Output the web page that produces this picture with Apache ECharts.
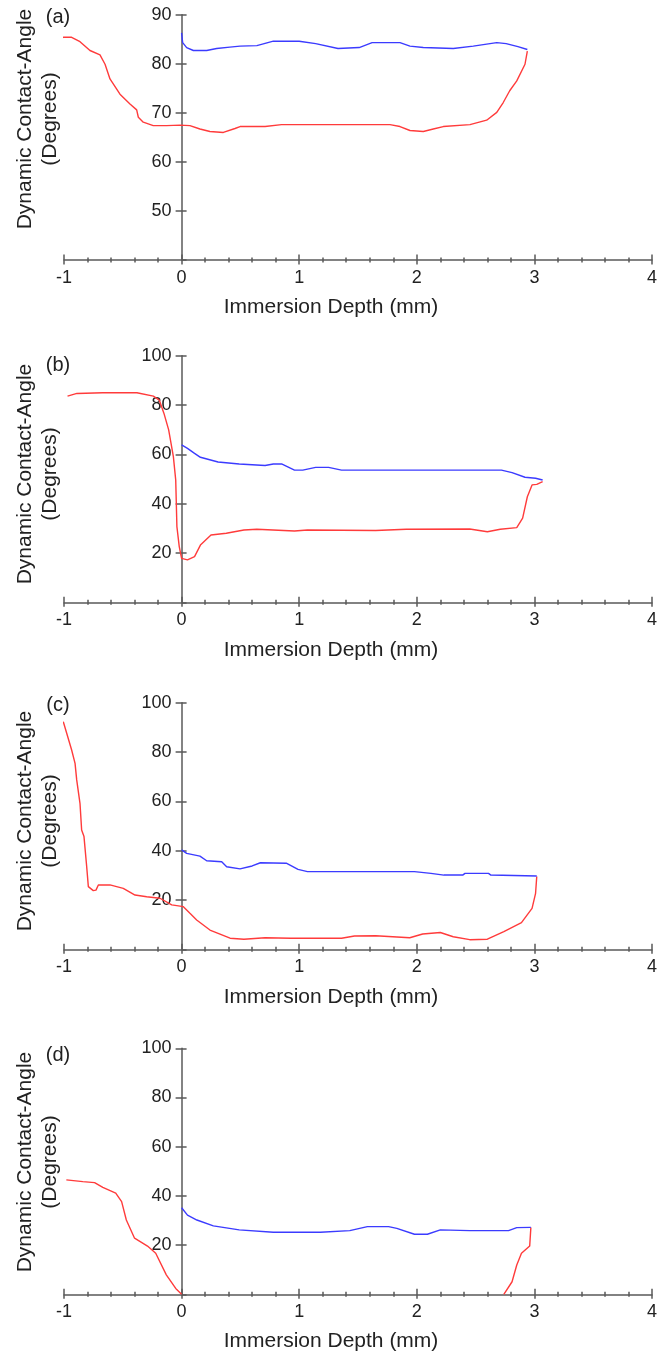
<!DOCTYPE html>
<html>
<head>
<meta charset="utf-8">
<script src="https://cdn.jsdelivr.net/npm/echarts@6/dist/echarts.min.js"></script>
<style>
  html, body { margin: 0; padding: 0; background: #fff; }
  #chart { width: 663px; height: 1352px; }
</style>
</head>
<body>
<div id="chart"></div>
<script>
// Dynamic contact angle vs immersion depth, four samples (a)-(d).
// Red: advancing (immersion) branch, blue: receding (withdrawal) branch.

const panelLabels = ['(a)', '(b)', '(c)', '(d)'];
const xTitle = 'Immersion Depth (mm)';
const yTitle = 'Dynamic Contact-Angle\n(Degrees)';

// (a)
const redA = [[-1.09,84.0],[-1.006,85.4],[-0.935,85.4],[-0.864,84.5],[-0.779,82.7],[-0.694,81.8],[-0.651,79.9],[-0.609,76.9],[-0.524,73.8],[-0.439,71.8],[-0.382,70.6],[-0.368,69.1],[-0.326,68.1],[-0.241,67.4],[-0.127,67.4],[-0.014,67.5],[0.071,67.4],[0.156,66.7],[0.241,66.2],[0.355,66.0],[0.454,66.8],[0.497,67.2],[0.71,67.2],[0.85,67.6],[1.6,67.6],[1.772,67.6],[1.857,67.2],[1.942,66.4],[2.055,66.2],[2.14,66.7],[2.225,67.2],[2.452,67.6],[2.594,68.5],[2.68,70.1],[2.735,72.1],[2.79,74.5],[2.85,76.5],[2.92,79.9],[2.94,82.6]];
const blueA = [[2.94,82.9],[2.86,83.5],[2.76,84.1],[2.68,84.3],[2.594,84.0],[2.48,83.6],[2.31,83.1],[2.055,83.3],[1.942,83.6],[1.857,84.3],[1.62,84.3],[1.51,83.3],[1.33,83.1],[1.14,84.1],[1.0,84.6],[0.78,84.6],[0.64,83.7],[0.497,83.6],[0.41,83.4],[0.298,83.1],[0.213,82.7],[0.1,82.7],[0.043,83.3],[0.009,84.3],[0.0,86.3]];

// (b)
const redB = [[-0.97,83.6],[-0.89,84.7],[-0.67,85.0],[-0.38,85.0],[-0.24,83.6],[-0.19,82.0],[-0.15,76.6],[-0.11,69.9],[-0.07,59.1],[-0.05,49.6],[-0.04,30.7],[-0.02,22.6],[0.0,17.8],[0.05,17.2],[0.11,18.5],[0.16,23.2],[0.25,27.3],[0.38,28.0],[0.53,29.3],[0.64,29.6],[0.96,28.9],[1.07,29.3],[1.65,29.1],[1.91,29.6],[2.45,29.7],[2.6,28.6],[2.71,29.6],[2.85,30.3],[2.9,34.1],[2.94,42.8],[2.98,47.6],[3.02,47.8],[3.07,48.9]];
const blueB = [[3.07,49.6],[3.01,50.3],[2.92,50.7],[2.81,52.6],[2.72,53.6],[1.36,53.6],[1.25,54.7],[1.14,54.7],[1.03,53.6],[0.96,53.6],[0.85,56.1],[0.78,56.1],[0.71,55.5],[0.49,56.1],[0.31,56.9],[0.16,58.8],[0.11,60.4],[0.05,62.4],[0.0,63.8]];

// (c)
const redC = [[-1.006,92.3],[-0.977,87.6],[-0.935,80.8],[-0.906,75.4],[-0.892,68.7],[-0.864,59.2],[-0.85,48.4],[-0.83,45.7],[-0.807,33.5],[-0.793,25.4],[-0.751,23.8],[-0.728,24.0],[-0.708,26.1],[-0.609,26.1],[-0.496,24.7],[-0.396,22.0],[-0.297,21.3],[-0.184,20.7],[-0.084,18.0],[0.015,17.3],[0.071,14.6],[0.128,11.9],[0.241,7.8],[0.412,4.5],[0.53,4.1],[0.71,4.7],[0.93,4.5],[1.36,4.5],[1.47,5.4],[1.65,5.5],[1.94,4.7],[2.05,6.2],[2.2,6.8],[2.31,5.1],[2.45,3.9],[2.6,4.1],[2.74,7.2],[2.89,10.8],[2.98,16.6],[3.01,22.7],[3.02,29.5]];
const blueC = [[3.02,29.7],[2.63,30.1],[2.61,30.8],[2.41,30.8],[2.39,30.1],[2.23,30.1],[2.12,30.8],[1.98,31.5],[1.07,31.5],[0.99,32.4],[0.89,34.9],[0.67,35.1],[0.6,33.8],[0.497,32.6],[0.383,33.5],[0.341,35.5],[0.213,35.9],[0.156,37.8],[0.043,38.9],[0.0,40.3]];

// (d)
const redDLeft = [[-0.98,46.5],[-0.84,45.8],[-0.74,45.4],[-0.67,43.5],[-0.56,41.1],[-0.51,37.7],[-0.47,30.2],[-0.4,22.8],[-0.29,19.6],[-0.22,16.7],[-0.13,7.9],[-0.05,2.4],[0,0]];
const redDRight = [[2.74,0],[2.81,5.1],[2.85,11.9],[2.89,16.7],[2.96,19.6],[2.97,27.2]];
const blueD = [[2.97,27.2],[2.85,27.1],[2.78,25.9],[2.45,25.9],[2.2,26.2],[2.09,24.4],[1.98,24.4],[1.83,26.8],[1.76,27.5],[1.58,27.5],[1.43,25.9],[1.18,25.2],[0.78,25.2],[0.49,26.2],[0.27,27.8],[0.13,30.2],[0.05,32.2],[0.0,35.2]];

const xMin = -1, xMax = 4, xStep = 1;
const yRanges = [[40, 90, 10], [0, 100, 20], [0, 100, 20], [0, 100, 20]];
const redSeries = [[redA], [redB], [redC], [redDLeft, redDRight]];
const blueSeries = [blueA, blueB, blueC, blueD];

// ---- layout ----
const FONT = '"Liberation Sans", Arial, Helvetica, sans-serif';
const TEXT = '#222';
const AXIS = '#5a5a5a';
const RED = '#ff3b3b';
const BLUE = '#3b3bff';
const gridLeft = 64, gridWidth = 588;
const tops = [14.7, 355.7, 702.7, 1048.3];
const heights = [245.3, 246.6, 246.6, 246.0];
const xTitleY = [307, 650, 997, 1341];
const yTitleY = [119, 474, 821, 1162];
const tagY = [17, 365, 705, 1055];
const xTitleX = 331;
// the vertical axis is drawn at depth 0
const yAxisShift = -(0 - xMin) / (xMax - xMin) * gridWidth;

const grid = [], xAxis = [], yAxis = [], series = [], graphic = [];

tops.forEach((top, p) => {
  grid.push({ left: gridLeft, width: gridWidth, top: top, height: heights[p] });
  const [ymin, ymax, ystep] = yRanges[p];
  const lineStyle = { color: AXIS, width: 1.5 };

  // main x axis: line, labels, ticks pointing down
  xAxis.push({
    gridIndex: p, type: 'value', min: xMin, max: xMax, interval: xStep, position: 'bottom',
    axisLine: { show: true, onZero: false, lineStyle },
    axisTick: { show: true, inside: false, length: 4.5, lineStyle },
    minorTick: { show: true, splitNumber: 5, length: 2.5, lineStyle },
    axisLabel: { show: true, color: TEXT, fontSize: 18, fontFamily: FONT, margin: 9 },
    splitLine: { show: false }
  });
  // companion x axis: ticks pointing up, so ticks cross the line
  xAxis.push({
    gridIndex: p, type: 'value', min: xMin, max: xMax, interval: xStep, position: 'bottom',
    axisLine: { show: false, onZero: false },
    axisTick: { show: true, inside: true, length: 5.5, lineStyle },
    minorTick: { show: true, splitNumber: 5, length: 2.5, lineStyle },
    axisLabel: { show: false },
    splitLine: { show: false }
  });
  // main y axis at depth 0
  yAxis.push({
    gridIndex: p, type: 'value', min: ymin, max: ymax, interval: ystep, position: 'left',
    offset: yAxisShift,
    axisLine: { show: true, onZero: false, lineStyle },
    axisTick: { show: true, inside: false, length: 6, lineStyle },
    axisLabel: { show: true, showMinLabel: false, color: TEXT, fontSize: 18, fontFamily: FONT, margin: 10 },
    splitLine: { show: false }
  });
  yAxis.push({
    gridIndex: p, type: 'value', min: ymin, max: ymax, interval: ystep, position: 'left',
    offset: yAxisShift,
    axisLine: { show: false, onZero: false },
    axisTick: { show: true, inside: true, length: 5, lineStyle },
    axisLabel: { show: false },
    splitLine: { show: false }
  });

  const base = {
    type: 'line', xAxisIndex: p * 2, yAxisIndex: p * 2, showSymbol: false, symbol: 'none',
    clip: false, silent: true, animation: false
  };
  redSeries[p].forEach(d => series.push(Object.assign({}, base, {
    data: d, lineStyle: { color: RED, width: 1.4 }, itemStyle: { color: RED }
  })));
  series.push(Object.assign({}, base, {
    data: blueSeries[p], lineStyle: { color: BLUE, width: 1.4 }, itemStyle: { color: BLUE }
  }));

  graphic.push({
    type: 'text', x: 58, y: tagY[p],
    style: { text: panelLabels[p], fill: TEXT, fontSize: 20, fontFamily: FONT, align: 'center', verticalAlign: 'middle' }
  });
  graphic.push({
    type: 'text', x: 38, y: yTitleY[p], rotation: Math.PI / 2,
    style: { text: yTitle, fill: TEXT, fontSize: 21, lineHeight: 25, fontFamily: FONT, align: 'center', verticalAlign: 'middle' }
  });
  graphic.push({
    type: 'text', x: xTitleX, y: xTitleY[p],
    style: { text: xTitle, fill: TEXT, fontSize: 21, fontFamily: FONT, align: 'center', verticalAlign: 'middle' }
  });
});

const chart = echarts.init(document.getElementById('chart'), null, { renderer: 'canvas' });
chart.setOption({
  animation: false,
  backgroundColor: '#fff',
  grid, xAxis, yAxis, series, graphic
});
</script>
</body>
</html>
